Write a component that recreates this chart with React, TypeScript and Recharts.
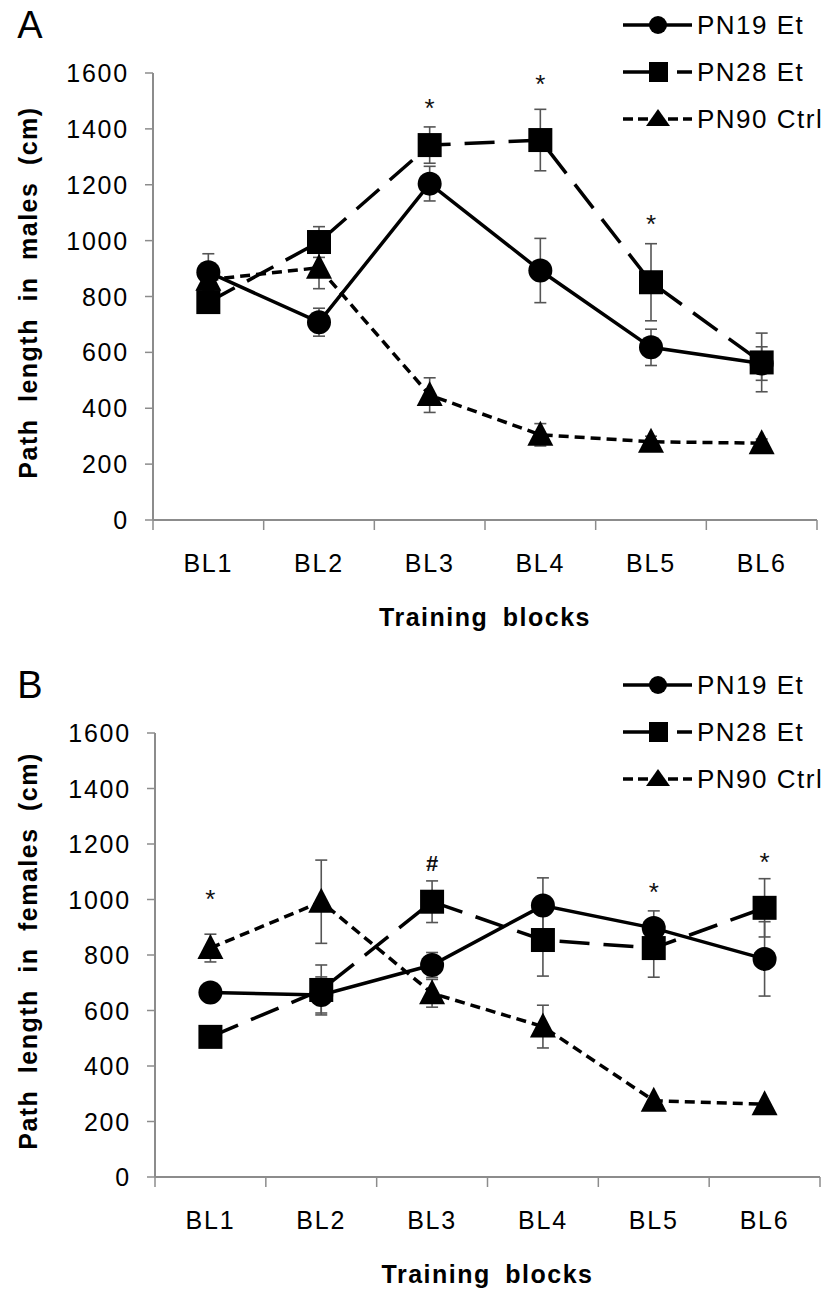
import React from "react";
import { ComposedChart, Line, XAxis, YAxis, ErrorBar, Label } from "recharts";

// Path length per training block, males (A) and females (B), mean ± SEM.

const BLOCKS = ["BL1", "BL2", "BL3", "BL4", "BL5", "BL6"];
const Y_TICKS = [0, 200, 400, 600, 800, 1000, 1200, 1400, 1600];

const MALE_PN19 = [887, 708, 1204, 893, 618, 560];
const MALE_PN19_SEM = [66, 50, 62, 115, 65, 60];
const MALE_PN28 = [780, 995, 1342, 1360, 851, 564];
const MALE_PN28_SEM = [25, 55, 65, 110, 138, 105];
const MALE_PN90 = [860, 903, 447, 305, 280, 275];
const MALE_PN90_SEM = [40, 75, 62, 40, 20, 15];
const MALE_MARKS = ["", "", "*", "*", "*", ""];
const MALE_MARK_AT = [null, null, 1475, 1562, 1060, null];

const FEMALE_PN19 = [665, 656, 764, 978, 897, 786];
const FEMALE_PN19_SEM = [30, 65, 45, 100, 62, 134];
const FEMALE_PN28 = [505, 674, 992, 854, 825, 970];
const FEMALE_PN28_SEM = [20, 90, 75, 130, 105, 105];
const FEMALE_PN90 = [825, 992, 662, 542, 275, 262];
const FEMALE_PN90_SEM = [50, 150, 50, 77, 0, 0];
const FEMALE_MARKS = ["*", "", "#", "", "*", "*"];
const FEMALE_MARK_AT = [1002, null, 1131, null, 1027, 1135];

const FONT = '"Liberation Sans", Arial, Helvetica, sans-serif';
const AXIS = "#8c8c8c";

const SERIES = [
  { key: "pn90", label: "PN90 Ctrl", dash: "10 6", legendDash: "10 5", marker: "triangle" },
  { key: "pn19", label: "PN19 Et", dash: undefined, legendDash: undefined, marker: "circle" },
  { key: "pn28", label: "PN28 Et", dash: "30 14", legendDash: "45 9 30", marker: "square" },
] as const;
const LEGEND_ORDER = ["pn19", "pn28", "pn90"];

// boundaries between blocks get tick marks, block centres get labels
const X_TICKS = BLOCKS.flatMap((_, i) => [i + 0.5, i + 1]).concat(BLOCKS.length + 0.5);

function buildRows(
  pn19: number[], pn19Err: number[],
  pn28: number[], pn28Err: number[],
  pn90: number[], pn90Err: number[],
  marks: string[], markAt: (number | null)[],
) {
  return BLOCKS.map((name, i) => ({
    name, pos: i + 1,
    pn19: pn19[i], pn19Err: pn19Err[i],
    pn28: pn28[i], pn28Err: pn28Err[i],
    pn90: pn90[i], pn90Err: pn90Err[i],
    mark: marks[i], markAt: markAt[i],
  }));
}

const MALE_ROWS = buildRows(MALE_PN19, MALE_PN19_SEM, MALE_PN28, MALE_PN28_SEM, MALE_PN90, MALE_PN90_SEM, MALE_MARKS, MALE_MARK_AT);
const FEMALE_ROWS = buildRows(FEMALE_PN19, FEMALE_PN19_SEM, FEMALE_PN28, FEMALE_PN28_SEM, FEMALE_PN90, FEMALE_PN90_SEM, FEMALE_MARKS, FEMALE_MARK_AT);

function Marker({ kind, cx, cy }: { kind: string; cx?: number; cy?: number }) {
  if (cx == null || cy == null || isNaN(cy)) return <g />;
  if (kind === "circle") return <circle cx={cx} cy={cy} r={12} fill="#000" />;
  if (kind === "square") return <rect x={cx - 12} y={cy - 12} width={24} height={24} fill="#000" />;
  return <polygon points={`${cx},${cy - 14} ${cx - 13},${cy + 11} ${cx + 13},${cy + 11}`} fill="#000" />;
}

function MarkDot(props: any) {
  const { cx, cy, payload, index } = props;
  if (cy == null || isNaN(cy) || !payload?.mark) return <g key={index} />;
  const hash = payload.mark === "#";
  return (
    <text key={index} x={cx} y={cy} textAnchor="middle" dominantBaseline="central"
      fontFamily={FONT} fontSize={hash ? 22 : 26} fontWeight={hash ? 700 : 400} fill="#111">
      {payload.mark}
    </text>
  );
}

function YTick({ x, y, payload }: any) {
  return (
    <text x={x} y={y} textAnchor="end" dominantBaseline="central" fontFamily={FONT}
      fontSize={25} letterSpacing={1.8} fill="#000">
      {payload.value}
    </text>
  );
}

function XTick({ x, y, payload }: any) {
  const v = payload.value as number;
  if (!Number.isInteger(v)) {
    return <line x1={x} y1={y} x2={x} y2={y + 10} stroke={AXIS} strokeWidth={1.5} />;
  }
  return (
    <text x={x} y={y + 43} textAnchor="middle" dominantBaseline="central" fontFamily={FONT}
      fontSize={25} letterSpacing={1.8} fill="#000">
      {BLOCKS[v - 1]}
    </text>
  );
}

function LegendSample({ marker, dash, y }: { marker: string; dash?: string; y: number }) {
  return (
    <g>
      <line x1={23} y1={y} x2={92} y2={y} stroke="#000" strokeWidth={3.5} strokeDasharray={dash} />
      {marker === "circle" && <circle cx={58} cy={y} r={9} fill="#000" />}
      {marker === "square" && <rect x={49} y={y - 10} width={19} height={20} fill="#000" />}
      {marker === "triangle" && <polygon points={`58,${y - 10} 46,${y + 7} 70,${y + 7}`} fill="#000" />}
    </g>
  );
}

function Panel({ top, height, plotTop, axisBand, yAxisWidth, right, title, yLabel, rows }: {
  top: number; height: number; plotTop: number; axisBand: number; yAxisWidth: number;
  right: number; title: string; yLabel: string; rows: ReturnType<typeof buildRows>;
}) {
  return (
    <div style={{ position: "absolute", left: 0, top, width: 831, height }}>
      <ComposedChart width={831} height={height} data={rows}
        margin={{ top: plotTop, right, bottom: 0, left: 0 }}>
        <XAxis dataKey="pos" type="number" domain={[0.5, BLOCKS.length + 0.5]} ticks={X_TICKS}
          interval={0} allowDecimals tick={<XTick />} tickLine={false} tickSize={0} tickMargin={0}
          height={axisBand} axisLine={{ stroke: AXIS, strokeWidth: 2 }}>
          <Label content={({ viewBox }: any) => (
            <text x={viewBox.x + viewBox.width / 2} y={viewBox.y + 97} textAnchor="middle"
              dominantBaseline="central" fontFamily={FONT} fontSize={25} fontWeight={700}
              letterSpacing={1.5} wordSpacing={6} fill="#000">Training blocks</text>
          )} />
        </XAxis>
        <YAxis type="number" domain={[0, 1600]} ticks={Y_TICKS} interval={0} width={yAxisWidth}
          tick={<YTick />} tickSize={8} tickMargin={16}
          tickLine={{ stroke: AXIS, strokeWidth: 1.5 }} axisLine={{ stroke: AXIS, strokeWidth: 2 }}>
          <Label content={({ viewBox }: any) => {
            const cx = viewBox.x + 28;
            const cy = viewBox.y + viewBox.height / 2 - 4;
            return (
              <text x={cx} y={cy} transform={`rotate(-90, ${cx}, ${cy})`} textAnchor="middle"
                dominantBaseline="central" fontFamily={FONT} fontSize={25} fontWeight={700}
                letterSpacing={1.5} wordSpacing={8} fill="#000">{yLabel}</text>
            );
          }} />
        </YAxis>
        {SERIES.map((s) => (
          <Line key={s.key} dataKey={s.key} type="linear" stroke="#000" strokeWidth={3.5}
            strokeDasharray={s.dash} isAnimationActive={false} activeDot={false}
            dot={(p: any) => <Marker key={p.index} kind={s.marker} cx={p.cx} cy={p.cy} />}>
            <ErrorBar dataKey={`${s.key}Err`} width={6} strokeWidth={1.6} stroke="#555" direction="y" />
          </Line>
        ))}
        <Line dataKey="markAt" stroke="none" dot={MarkDot} activeDot={false}
          isAnimationActive={false} legendType="none" />
      </ComposedChart>
      <svg width={831} height={plotTop + 80}
        style={{ position: "absolute", left: 0, top: 0, pointerEvents: "none" }}>
        <text x={30} y={plotTop - 48} textAnchor="middle" dominantBaseline="central"
          fontFamily={FONT} fontSize={38} fill="#000">{title}</text>
        <g transform="translate(600, 0)">
          {LEGEND_ORDER.map((k, i) => {
            const s = SERIES.find((d) => d.key === k)!;
            const y = plotTop - 48 + i * 47;
            return (
              <g key={k}>
                <LegendSample marker={s.marker} dash={s.legendDash} y={y} />
                <text x={97} y={y} dominantBaseline="central" fontFamily={FONT} fontSize={26}
                  letterSpacing={1.5} fill="#000">{s.label}</text>
              </g>
            );
          })}
        </g>
      </svg>
    </div>
  );
}

export default function App() {
  return (
    <div style={{ position: "absolute", left: 0, top: 0, width: 831, height: 1290, background: "#fff" }}>
      <Panel top={0} height={645} plotTop={73} axisBand={125} yAxisWidth={153} right={14}
        title="A" yLabel="Path length in males (cm)" rows={MALE_ROWS} />
      <Panel top={645} height={645} plotTop={88} axisBand={113} yAxisWidth={155} right={11}
        title="B" yLabel="Path length in females (cm)" rows={FEMALE_ROWS} />
    </div>
  );
}
